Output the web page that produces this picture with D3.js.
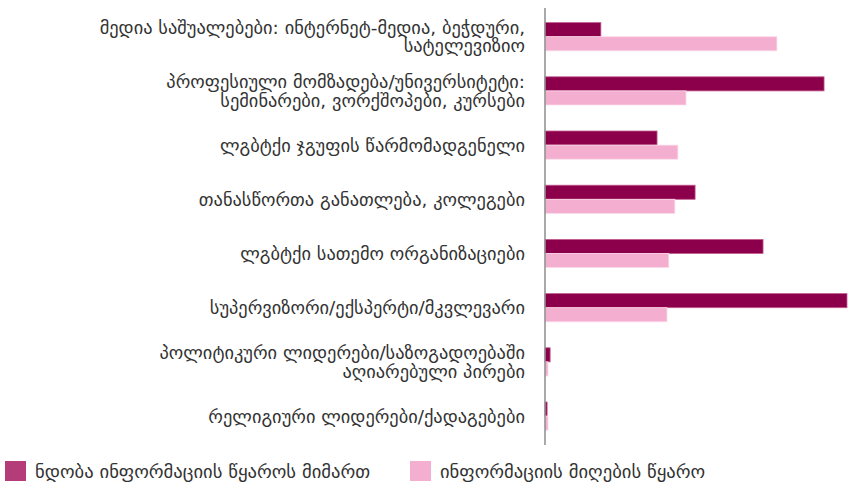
<!DOCTYPE html>
<html><head><meta charset="utf-8">
<script src="https://cdn.jsdelivr.net/npm/d3@7"></script>
<style>body{margin:0;background:#fff}svg{display:block}</style>
</head><body><svg id="c" width="848" height="485"></svg>
<script>
const categories = [
  ["მედია საშუალებები: ინტერნეტ-მედია, ბეჭდური,", "სატელევიზიო"],
  ["პროფესიული მომზადება/უნივერსიტეტი:", "სემინარები, ვორქშოპები, კურსები"],
  ["ლგბტქი ჯგუფის წარმომადგენელი"],
  ["თანასწორთა განათლება, კოლეგები"],
  ["ლგბტქი სათემო ორგანიზაციები"],
  ["სუპერვიზორი/ექსპერტი/მკვლევარი"],
  ["პოლიტიკური ლიდერები/საზოგადოებაში", "აღიარებული პირები"],
  ["რელიგიური ლიდერები/ქადაგებები"]
];
const seriesNames = ["ნდობა ინფორმაციის წყაროს მიმართ", "ინფორმაციის მიღების წყარო"];
const trustValues = [18.5, 92.4, 37.1, 49.7, 72.2, 100, 1.7, 0.7];
const sourceValues = [76.8, 46.7, 44.0, 43.0, 41.0, 40.4, 1.0, 1.0];

const svg = d3.select("#c");
const x0 = 545, x1 = 847;
const x = d3.scaleLinear().domain([0, 100]).range([x0, x1]);
const idx = categories.map((d, i) => i);
const y = d3.scaleBand().domain(idx).range([9.6, 443.2]).paddingInner(0.48).paddingOuter(0.24);
const sub = d3.scaleBand().domain([0, 1]).range([0, y.bandwidth()]);

const colors = ["#8c004b", "#f4aecf"];
const legendColors = ["#b43d79", "#f4aecf"];

const g = svg.append("g");
const data = idx.map(i => [trustValues[i], sourceValues[i]]);
const groups = g.selectAll("g.grp").data(data).join("g").attr("transform", (d, i) => `translate(0,${y(i)})`);
groups.selectAll("rect").data(d => d).join("rect")
  .attr("x", x(0))
  .attr("y", (d, j) => sub(j))
  .attr("width", d => x(d) - x(0))
  .attr("height", sub.bandwidth())
  .attr("fill", (d, j) => colors[j])
  .attr("stroke", (d, j) => j === 0 ? "#c25a8e" : "#fbdcea")
  .attr("stroke-width", 0.8);

// axis line
svg.append("line").attr("x1", x0).attr("x2", x0).attr("y1", 8).attr("y2", 445)
  .attr("stroke", "#8c8c8c").attr("stroke-width", 1.5);

// labels
const lab = svg.append("g").attr("font-family", "DejaVu Sans, sans-serif").attr("font-size", 18.4).attr("fill", "#333");
categories.forEach((lines, i) => {
  const cy = y(i) + y.bandwidth() / 2;
  const lh = 18.5;
  const t = lab.append("text").attr("text-anchor", "end");
  lines.forEach((s, k) => {
    t.append("tspan").attr("x", 525).attr("y", cy + (k - (lines.length - 1) / 2) * lh).attr("dy", "0.35em").text(s);
  });
});

// legend
const leg = svg.append("g").attr("font-family", "DejaVu Sans, sans-serif").attr("font-size", 18.6).attr("fill", "#333");
const legX = [5, 410];
seriesNames.forEach((n, j) => {
  leg.append("rect").attr("x", legX[j]).attr("y", 461).attr("width", 21).attr("height", 20).attr("fill", legendColors[j]);
  leg.append("text").attr("x", legX[j] + 30).attr("y", 471).attr("dy", "0.35em").text(n);
});
</script></body></html>
